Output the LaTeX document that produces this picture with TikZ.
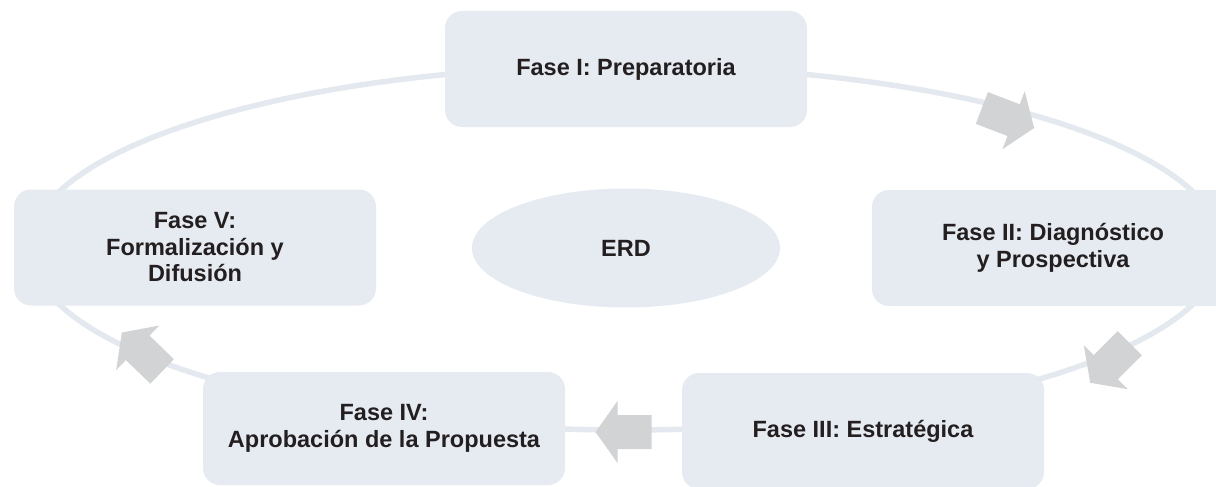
\documentclass[tikz,border=0pt]{standalone}
\usepackage{fontspec}
\setmainfont{Liberation Sans}
\usetikzlibrary{shapes.geometric}
\definecolor{boxfill}{HTML}{E6EAF1}
\definecolor{ringcol}{HTML}{E4E9F0}
\definecolor{arrowcol}{HTML}{D1D3D4}
\definecolor{txt}{HTML}{231F20}
\tikzset{
  phase/.style={fill=boxfill, rounded corners=17pt, minimum width=362pt, minimum height=116pt,
    align=center, text=txt, font=\fontsize{23.5}{26.5}\selectfont\bfseries, inner sep=0pt},
  centre/.style={ellipse, fill=boxfill, minimum width=308pt, minimum height=119pt,
    text=txt, font=\fontsize{23.5}{26.5}\selectfont\bfseries, inner sep=0pt},
  ring/.style={draw=ringcol, line width=5.5pt},
  blockarrow/.pic={\fill[arrowcol] (-28,-17) -- (6,-17) -- (6,-31) -- (28,0) -- (6,31) -- (6,17) -- (-28,17) -- cycle;}
}
\begin{document}
\begin{tikzpicture}[x=1pt,y=-1pt]
\useasboundingbox (0,0) rectangle (1216,487);
\begin{scope}
\clip (0,0) rectangle (1216,487);
\node[draw=none, ellipse, minimum width=1192pt, minimum height=364pt, ring] (loop) at (626,248) {};
\node[phase] (p1) at (626,69) {Fase I: Preparatoria};
\node[phase] (p2) at (1053,248) {Fase II: Diagnóstico\\y Prospectiva};
\node[phase] (p3) at (863,431) {Fase III: Estratégica};
\node[phase, minimum height=113pt] (p4) at (384,428.5) {Fase IV:\\Aprobación de la Propuesta};
\node[phase] (p5) at (195,247.5) {Fase V:\\Formalización y\\Difusión};
\node[centre] (erd) at (626,248) {ERD};
\pic[rotate=-21] at (1008,118) {blockarrow};
\pic[rotate=-135] at (1110,363) {blockarrow};
\pic[rotate=180] at (623.5,432) {blockarrow};
\pic[rotate=136] at (142,352) {blockarrow};
\end{scope}
\end{tikzpicture}
\end{document}
